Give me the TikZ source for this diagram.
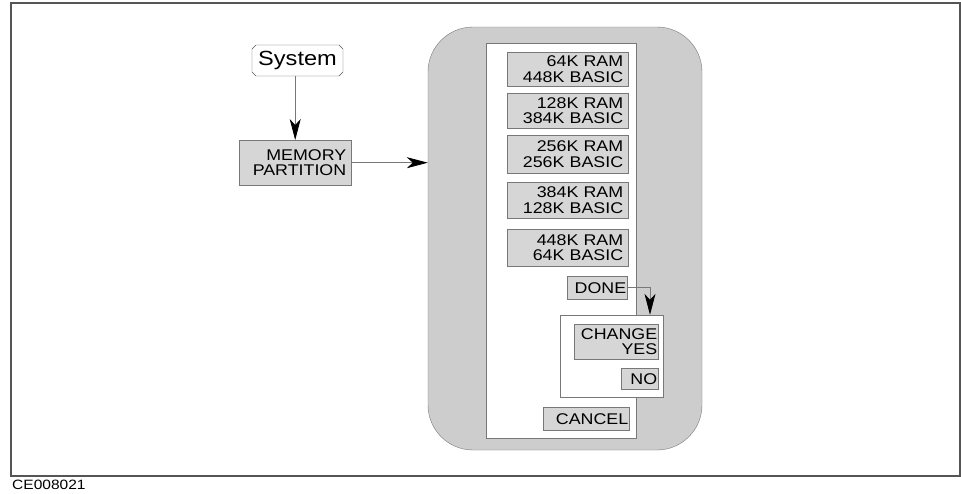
\documentclass[tikz,border=0pt]{standalone}
\usepackage{fontspec}
\setmainfont{Liberation Sans}[FakeStretch=1.15]
\usepackage{xcolor}
\usepackage{tikz}
\usetikzlibrary{arrows.meta,shapes.misc}
\definecolor{framegray}{RGB}{85,85,85}
\definecolor{edgegray}{RGB}{120,120,120}
\definecolor{blobgray}{RGB}{205,205,205}
\definecolor{keygray}{RGB}{214,214,214}

\begin{document}
\begin{tikzpicture}[x=1pt, y=-1pt,
  key/.style={draw=edgegray, fill=keygray, anchor=north west, align=right,
    inner ysep=0pt, font=\fontsize{15.5}{15.5}\selectfont},
  panel/.style={draw=edgegray, fill=white, inner sep=0pt},
  arr/.style={-{Stealth[length=21pt, width=11pt, inset=6pt, black]}, edgegray,
    line width=0.8pt},
]
  \useasboundingbox (0,0) rectangle (961,493);
  \draw[framegray, line width=1.2pt] (11,3) rectangle (960,476);

  % left side
  \node[draw=framegray, fill=white, chamfered rectangle, chamfered rectangle xsep=2pt,
    chamfered rectangle ysep=2pt, minimum width=91pt, minimum height=31pt, inner sep=0pt,
    font=\fontsize{20.5}{20.5}\selectfont] (sys) at (297.5,60.5) {System};
  \node[key, inner xsep=5pt, text width=102pt, minimum height=45pt] (mem) at (239,140)
    {MEMORY\\PARTITION};

  % menu
  \node[draw=edgegray, fill=blobgray, rounded corners=45pt, minimum width=274pt,
    minimum height=423pt, inner sep=0pt] (blob) at (565,238.5) {};
  \node[panel, minimum width=150pt, minimum height=395pt] (menu) at (561,240.5) {};

  \node[key, inner xsep=5pt, text width=111pt, minimum height=34pt] (k64) at (507,52)
    {64K RAM\\448K BASIC};
  \node[key, inner xsep=5pt, text width=111pt, minimum height=35pt] (k128) at (507,93)
    {128K RAM\\384K BASIC};
  \node[key, inner xsep=5pt, text width=111pt, minimum height=38pt] (k256) at (507,135)
    {256K RAM\\256K BASIC};
  \node[key, inner xsep=5pt, text width=111pt, minimum height=36pt] (k384) at (507,182)
    {384K RAM\\128K BASIC};
  \node[key, inner xsep=5pt, text width=111pt, minimum height=37pt] (k448) at (507,229)
    {448K RAM\\64K BASIC};
  \node[key, inner xsep=1pt, text width=58pt, minimum height=23pt] (done) at (567,276)
    {DONE};

  \node[panel, minimum width=103pt, minimum height=82pt] (sub) at (611.5,356) {};
  \node[key, inner xsep=1pt, text width=82pt, minimum height=35pt] (change) at (574,324)
    {CHANGE\\YES};
  \node[key, inner xsep=1pt, text width=35pt, minimum height=21pt] (no) at (621,368)
    {NO};
  \node[key, inner xsep=1pt, text width=84pt, minimum height=23pt] (cancel) at (543,407)
    {CANCEL};

  % connectors
  \draw[arr] (sys.south -| mem.north) -- (mem.north);
  \draw[arr] (mem.east) -- (mem.east -| blob.west);
  \draw[arr] (done.east) -| ([xshift=38.5pt]sub.north);

  \node[anchor=base west, inner sep=0pt, font=\fontsize{13.5}{13.5}\selectfont]
    (code) at (12,489) {CE008021};
\end{tikzpicture}
\end{document}
